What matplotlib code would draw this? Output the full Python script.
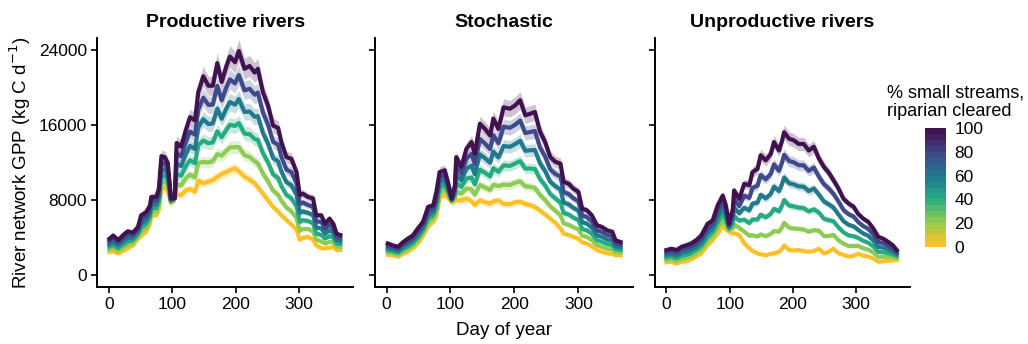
import numpy as np
import matplotlib
matplotlib.use("Agg")
import matplotlib.pyplot as plt
from matplotlib.colors import LinearSegmentedColormap, BoundaryNorm
from matplotlib.colorbar import ColorbarBase

plt.rcParams['font.family'] = ['Liberation Sans', 'DejaVu Sans']

# GPP (kg C / d): 0% and 100% cleared, per panel
prod_days = [1, 7, 15, 22, 30, 38, 46, 51, 59, 65, 67, 75, 79, 83, 88, 93, 98, 104, 107, 114,
             122, 128, 136, 141, 149, 157, 164, 171, 178, 185, 191, 199, 205, 214, 222, 230,
             235, 243, 251, 259, 267, 272, 280, 288, 296, 301, 306, 314, 322, 327, 335, 341,
             348, 354, 359, 365]
prod_100 = [3900, 4250, 3750, 4250, 4700, 4550, 5150, 6400, 6750, 7450, 8350, 8350, 9250, 12700,
            12600, 12000, 8200, 8200, 14100, 13700, 15600, 16850, 16500, 19500, 21200, 20200,
            20200, 22600, 20600, 22200, 23300, 22700, 23900, 22000, 22300, 21600, 22000, 19500,
            18100, 15950, 15700, 14200, 12600, 12400, 11000, 8550, 8700, 8350, 8200, 6400, 6400,
            5500, 6050, 5500, 4450, 4300]
prod_0 = [2500, 2550, 2350, 2600, 2870, 3200, 3900, 4200, 4650, 5500, 6400, 6400, 7000, 9200,
          9300, 9000, 7700, 8350, 8600, 8550, 9100, 9200, 8900, 10100, 9800, 10000, 10150, 10500,
          10800, 11000, 11200, 11400, 11100, 10500, 10200, 9800, 9400, 8700, 8000, 7300, 6800,
          6400, 5900, 5400, 4900, 3800, 4000, 4100, 3800, 3200, 2900, 2870, 2950, 3050, 2700, 2700]

stoch_days = [2, 10, 18, 26, 33, 41, 49, 57, 65, 73, 78, 83, 91, 96, 102, 107, 109, 117, 125, 133,
              138, 146, 154, 162, 167, 175, 183, 193, 201, 209, 217, 224, 232, 240, 248, 256, 264,
              272, 277, 285, 292, 300, 306, 313, 321, 329, 337, 345, 353, 358, 366]
stoch_100 = [3400, 3200, 3050, 3550, 3900, 4250, 5000, 5700, 7300, 7450, 8900, 11000, 11200, 9950,
             8200, 9600, 12600, 11550, 13500, 14200, 12950, 16150, 15600, 14900, 16700, 15600,
             17900, 17750, 18100, 18650, 17050, 17200, 17400, 15300, 14200, 12600, 12100, 11900,
             9950, 9750, 9250, 8900, 7100, 6950, 6400, 5350, 5150, 4800, 4650, 3750, 3550]
stoch_0 = [2200, 2150, 2000, 2300, 2500, 2900, 3400, 4200, 5200, 5700, 6300, 8200, 8700, 8300,
           7800, 7900, 8000, 8000, 8200, 7900, 7500, 8000, 7800, 7650, 7900, 8000, 7600, 7600,
           7800, 7850, 7600, 7500, 7300, 6900, 6500, 6050, 5600, 5000, 4450, 4300, 4100, 3900,
           3500, 3400, 3100, 2700, 2500, 2350, 2300, 2150, 2150]

unprod_days = [0, 8, 16, 24, 31, 39, 47, 55, 65, 73, 81, 89, 94, 99, 105, 107, 115, 123, 131, 136,
               144, 149, 157, 165, 170, 178, 183, 186, 194, 201, 209, 217, 225, 233, 241, 249,
               256, 264, 272, 280, 288, 296, 303, 311, 319, 327, 335, 343, 351, 358, 364]
unprod_100 = [2700, 2850, 2700, 3050, 3200, 3400, 3750, 4250, 5500, 5850, 7450, 8500, 7450, 5500,
              7100, 9050, 8150, 9750, 9600, 11000, 11350, 12800, 12250, 12950, 14200, 13300, 14400,
              15250, 14550, 14400, 14000, 14000, 13300, 13700, 12450, 11550, 11000, 10150, 9250,
              8150, 7650, 7300, 6550, 6050, 5700, 5000, 4100, 3900, 3550, 3200, 2700]
unprod_0 = [1400, 1450, 1250, 1450, 1500, 1700, 2000, 2350, 3200, 3750, 4450, 5300, 4900, 4650,
            4500, 4500, 4300, 3400, 2900, 2600, 2350, 2250, 2150, 2300, 2350, 2500, 2850, 3200,
            2700, 2650, 2700, 2600, 2500, 2600, 2850, 2350, 2500, 2850, 2350, 2200, 2000, 2100,
            2300, 2100, 2000, 1800, 1450, 1500, 1600, 1600, 1650]

levels = [0, 20, 40, 60, 80, 100]
titles = ["Productive rivers", "Stochastic", "Unproductive rivers"]
panels = [(prod_days, prod_0, prod_100),
          (stoch_days, stoch_0, stoch_100),
          (unprod_days, unprod_0, unprod_100)]

cmap = LinearSegmentedColormap.from_list(
    "clear", ["#FFC125", "#8DCB52", "#25AB82", "#21798D", "#3E4A89", "#40124F"])

fig = plt.figure(figsize=(10.28, 3.44), dpi=100)
lefts = [0.0947, 0.3648, 0.6372]
widths = [0.2487, 0.2507, 0.248]
axes = []
for i, (days, lo, hi) in enumerate(panels):
    ax = fig.add_axes([lefts[i], 0.1666, widths[i], 0.7221])
    axes.append(ax)
    d = np.array(days)
    lo = np.array(lo, float)
    hi = np.array(hi, float)
    for lev in levels:
        f = lev / 100
        y = lo + f * (hi - lo)
        c = cmap(f)
        ax.fill_between(d, y * 0.95, y * 1.05, color=c, alpha=0.25, lw=0)
        ax.plot(d, y, color=c, lw=3.0)
    ax.set_xlim(-18, 385)
    ax.set_ylim(-1200, 25250)
    ax.set_xticks([0, 100, 200, 300])
    ax.set_yticks([0, 8000, 16000, 24000])
    if i > 0:
        ax.set_yticklabels([])
    for s in ['top', 'right']:
        ax.spines[s].set_visible(False)
    for s in ['left', 'bottom']:
        ax.spines[s].set_linewidth(1.4)
    ax.tick_params(direction='out', length=4, width=1.2, labelsize=12.5, colors='black')
    ax.set_title(titles[i], fontsize=14, fontweight='bold', pad=8)

axes[0].set_ylabel("River network GPP (kg C d$^{-1}$)", fontsize=13.5)
axes[1].set_xlabel("Day of year", fontsize=13.5, labelpad=7)

# colorbar legend
cax = fig.add_axes([0.8998, 0.2828, 0.0204, 0.3442])
bounds = np.linspace(0, 100, 21)
norm = BoundaryNorm(bounds, 20)
cb = ColorbarBase(cax, cmap=cmap.resampled(20), norm=norm, boundaries=bounds,
                  ticks=[0, 20, 40, 60, 80, 100])
cb.outline.set_visible(False)
cax.minorticks_off()
cax.tick_params(length=0, labelsize=12.5, pad=6)
cax.set_yticklabels(["0", "20", "40", "60", "80", "100"])
fig.text(0.8628, 0.703, "% small streams,\nriparian cleared", fontsize=13,
         ha='left', va='center', linespacing=1.1)

fig.savefig("out.png", dpi=100)
